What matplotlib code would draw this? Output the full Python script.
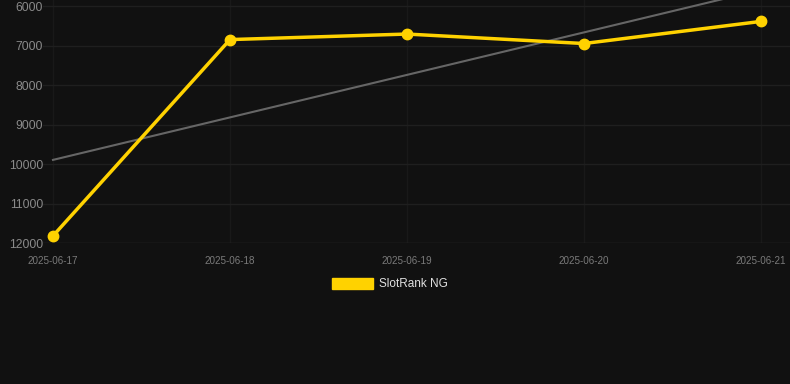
import matplotlib.pyplot as plt
import matplotlib.patches as mpatches
import numpy as np

plt.rcParams['font.family'] = ['Liberation Sans', 'DejaVu Sans']

# data
dates = ['2025-06-17', '2025-06-18', '2025-06-19', '2025-06-20', '2025-06-21']
rank = [11820, 6850, 6710, 6950, 6390]
series_name = 'SlotRank NG'
y_ticks = [6000, 7000, 8000, 9000, 10000, 11000, 12000]

bg = '#111111'
gold = '#FFD200'

x = np.arange(len(dates))

fig = plt.figure(figsize=(7.9, 3.84), dpi=100, facecolor=bg)
ax = fig.add_axes([43 / 790, 1 - 243 / 384, 1 - 43 / 790, 243 / 384])
ax.set_facecolor(bg)

# linear trend through the points
slope, intercept = np.polyfit(x, rank, 1)
ax.plot(x, slope * x + intercept, color='#666666', lw=1.5, zorder=2)

ax.plot(x, rank, color=gold, lw=2.5, marker='o', markersize=7.5, zorder=3)

ax.set_xlim(-0.0565, 4.164)
ax.set_ylim(12000, 5848)
ax.set_yticks(y_ticks)
ax.set_yticklabels([str(v) for v in y_ticks])
ax.set_xticks(x)
ax.set_xticklabels(dates)

ax.grid(True, axis='y', color='#1f1f1f', lw=1)
ax.grid(True, axis='x', color='#191919', lw=1)
ax.axhline(12000, color='#272727', lw=1, zorder=1)
ax.set_axisbelow(True)
for s in ax.spines.values():
    s.set_visible(False)
ax.tick_params(axis='y', length=0, pad=0, labelsize=8.8, labelcolor='#8a8a8a')
ax.tick_params(axis='x', length=0, pad=9, labelsize=7.1, labelcolor='#7a7a7a')

handle = mpatches.Patch(color=gold, label=series_name)
leg = fig.legend(handles=[handle], loc='center', bbox_to_anchor=(390 / 790, 1 - 284 / 384),
                 frameon=False, fontsize=8.5, handlelength=3.5, handleheight=1.1,
                 handletextpad=0.5)
for t in leg.get_texts():
    t.set_color('#e0e0e0')

fig.savefig('out.png', dpi=100, facecolor=bg)
